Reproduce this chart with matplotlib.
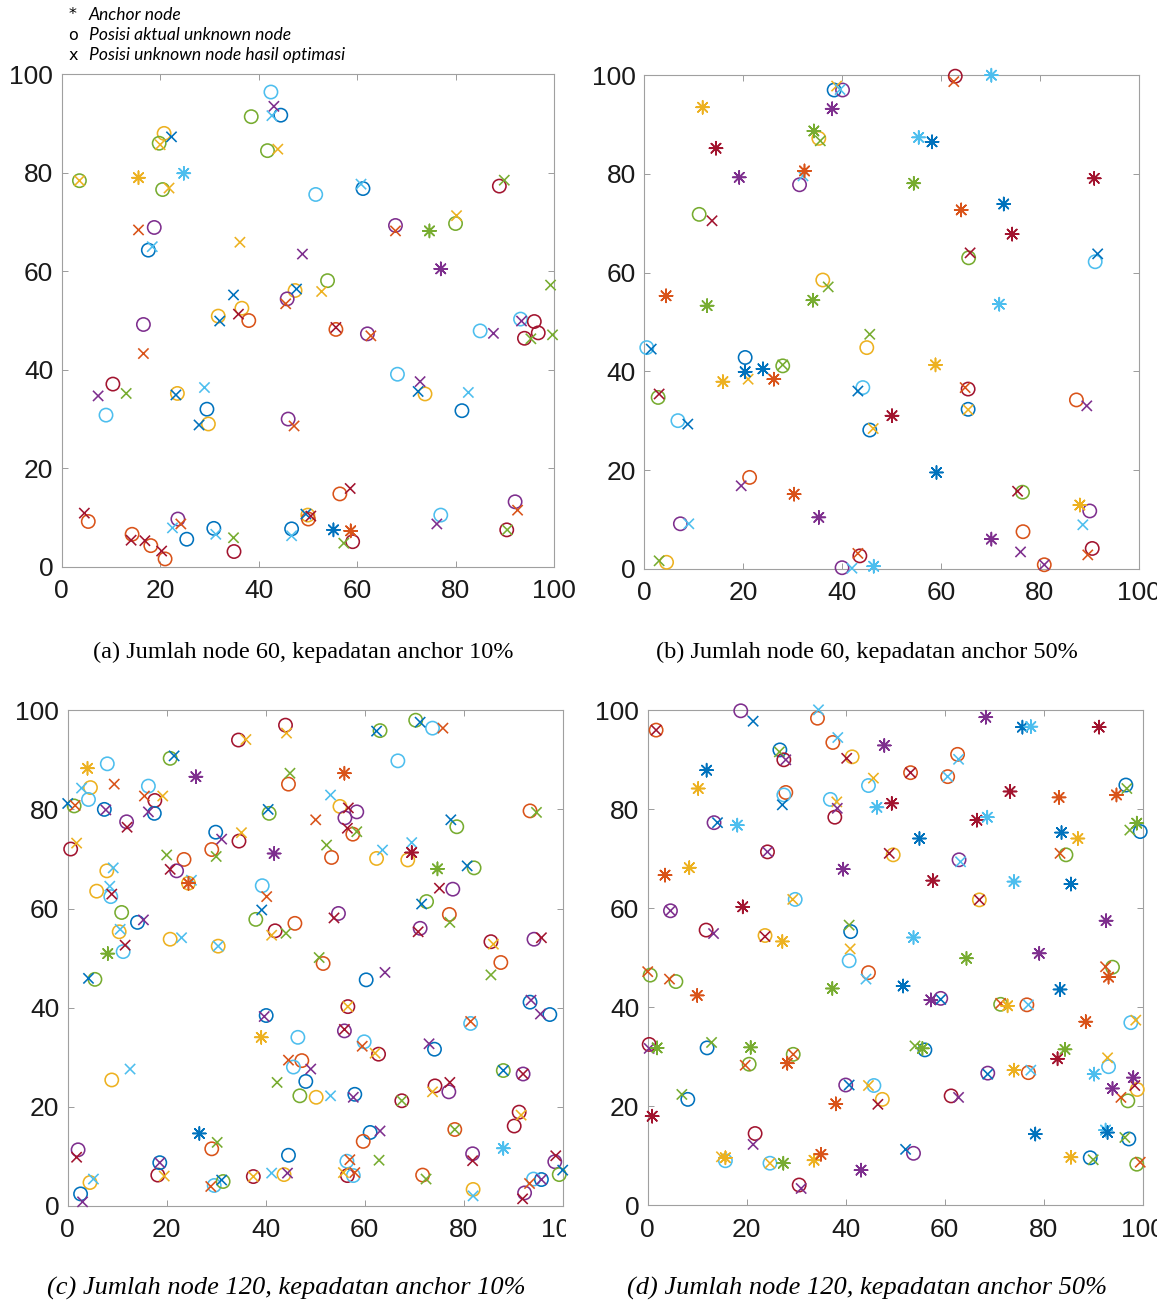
import matplotlib
matplotlib.use("Agg")
import matplotlib.pyplot as plt
from matplotlib.patches import Rectangle

# MATLAB default colour order
PAL = {"b": "#0072BD", "o": "#D95319", "y": "#EDB120", "p": "#7E2F8E",
       "g": "#77AC30", "c": "#4DBEEE", "r": "#A2142F"}

ticks = [0, 20, 40, 60, 80, 100]

captions = ["(a) Jumlah node 60, kepadatan anchor 10%",
            "(b) Jumlah node 60, kepadatan anchor 50%",
            "(c) Jumlah node 120, kepadatan anchor 10%",
            "(d) Jumlah node 120, kepadatan anchor 50%"]
legend_labels = ["Anchor node", "Posisi aktual unknown node",
                 "Posisi unknown node hasil optimasi"]

# ---------------- Panel (a) ----------------
a_anchor = [(15.6, 79.0, "y"), (24.8, 79.9, "c"), (74.7, 68.2, "g"), (77.0, 60.5, "p"),
            (55.2, 7.5, "b"), (58.7, 7.3, "o")]
a_actual = [(42.5, 96.4, "c"), (44.5, 91.7, "b"), (38.5, 91.4, "g"), (20.8, 88.0, "y"),
            (19.8, 86.0, "g"), (41.8, 84.5, "g"), (3.6, 78.4, "g"), (20.5, 76.6, "g"),
            (51.6, 75.6, "c"), (61.2, 76.8, "b"), (88.9, 77.3, "r"), (18.8, 68.9, "p"),
            (67.8, 69.3, "p"), (80.0, 69.7, "g"), (17.6, 64.3, "b"), (54.0, 58.1, "g"),
            (47.4, 56.1, "y"), (45.8, 54.4, "p"), (36.6, 52.5, "y"), (38.0, 50.0, "o"),
            (31.8, 50.9, "y"), (16.6, 49.2, "p"), (55.7, 48.2, "o"), (62.1, 47.3, "p"),
            (85.0, 47.9, "c"), (93.2, 50.3, "c"), (96.0, 49.8, "r"), (96.8, 47.5, "r"),
            (94.0, 46.4, "r"), (10.4, 37.1, "r"), (23.5, 35.2, "y"), (68.2, 39.1, "c"),
            (73.8, 35.1, "y"), (9.0, 30.8, "c"), (29.5, 32.0, "b"), (29.8, 29.0, "y"),
            (46.0, 30.0, "p"), (81.3, 31.7, "b"), (5.4, 9.2, "o"), (14.3, 6.6, "o"),
            (18.1, 4.3, "o"), (21.0, 1.6, "o"), (23.6, 9.7, "p"), (25.4, 5.6, "b"),
            (30.9, 7.8, "b"), (35.0, 3.1, "r"), (46.7, 7.7, "b"), (50.0, 10.5, "y"),
            (50.1, 9.7, "o"), (59.1, 5.1, "r"), (56.5, 14.8, "o"), (77.0, 10.5, "c"),
            (92.1, 13.2, "p"), (90.4, 7.5, "r")]
a_est = [(43.1, 93.5, "p"), (42.7, 91.6, "c"), (22.3, 87.3, "b"), (20.0, 85.7, "y"),
         (43.9, 84.8, "y"), (3.6, 78.4, "y"), (21.8, 76.9, "y"), (60.8, 77.7, "c"),
         (89.9, 78.5, "g"), (15.6, 68.4, "o"), (36.2, 65.9, "y"), (67.8, 68.2, "o"),
         (80.2, 71.3, "y"), (18.4, 65.0, "c"), (48.9, 63.5, "p"), (99.3, 57.2, "g"),
         (52.8, 55.9, "y"), (47.7, 56.4, "b"), (45.5, 53.4, "o"), (34.9, 55.2, "b"),
         (35.9, 51.3, "r"), (32.1, 49.9, "b"), (16.6, 43.3, "o"), (55.7, 48.6, "r"),
         (62.8, 46.9, "o"), (87.7, 47.4, "p"), (93.4, 49.9, "p"), (95.3, 46.3, "g"),
         (99.7, 47.1, "g"), (7.4, 34.7, "p"), (13.1, 35.2, "g"), (23.2, 34.9, "b"),
         (29.0, 36.4, "c"), (72.8, 37.6, "p"), (72.4, 35.6, "b"), (82.6, 35.4, "c"),
         (27.9, 28.8, "b"), (47.2, 28.6, "o"), (4.6, 10.9, "r"), (14.1, 5.4, "r"),
         (16.9, 5.3, "r"), (20.3, 3.2, "r"), (24.2, 8.7, "o"), (22.5, 7.9, "c"),
         (31.3, 6.6, "c"), (34.9, 5.9, "g"), (46.7, 6.3, "c"), (49.6, 10.7, "b"),
         (50.6, 10.3, "r"), (57.3, 4.8, "g"), (58.6, 15.9, "r"), (76.2, 8.7, "p"),
         (92.6, 11.5, "o"), (90.5, 7.5, "g")]

# ---------------- Panel (b) ----------------
b_anchor = [(70.2, 100.0, "c"), (11.8, 93.5, "y"), (38.0, 93.2, "p"), (34.3, 88.7, "g"),
            (14.5, 85.2, "r"), (55.5, 87.4, "c"), (58.2, 86.5, "b"), (19.2, 79.3, "p"),
            (32.4, 80.6, "o"), (54.5, 78.1, "g"), (91.0, 79.1, "r"), (72.7, 73.9, "b"),
            (64.1, 72.7, "o"), (74.4, 67.8, "r"), (4.4, 55.3, "o"), (12.7, 53.3, "g"),
            (34.1, 54.4, "g"), (71.8, 53.6, "c"), (20.4, 39.9, "b"), (24.0, 40.5, "b"),
            (15.9, 37.9, "y"), (26.2, 38.4, "o"), (58.9, 41.3, "y"), (50.1, 31.0, "r"),
            (59.1, 19.5, "b"), (30.3, 15.1, "o"), (35.3, 10.4, "p"), (88.1, 12.9, "y"),
            (70.2, 6.0, "p"), (46.4, 0.5, "c")]
b_actual = [(38.4, 97.0, "b"), (40.1, 97.0, "p"), (62.9, 99.8, "r"), (35.3, 87.2, "y"),
            (31.4, 77.8, "p"), (11.1, 71.8, "g"), (65.6, 63.0, "g"), (91.2, 62.2, "c"),
            (36.1, 58.5, "y"), (45.0, 44.8, "y"), (0.5, 44.8, "c"), (20.4, 42.8, "b"),
            (28.0, 41.1, "g"), (44.2, 36.7, "c"), (65.5, 36.4, "r"), (65.5, 32.3, "b"),
            (87.4, 34.2, "o"), (2.8, 34.7, "g"), (6.8, 30.0, "c"), (45.6, 28.1, "b"),
            (21.3, 18.5, "o"), (76.5, 15.5, "g"), (90.1, 11.7, "p"), (7.3, 9.1, "p"),
            (76.6, 7.5, "o"), (90.6, 4.1, "r"), (80.9, 0.8, "o"), (4.5, 1.3, "y"),
            (43.6, 2.6, "r"), (40.0, 0.2, "p")]
b_est = [(38.9, 97.8, "y"), (39.6, 97.1, "c"), (62.6, 98.7, "o"), (35.6, 86.7, "g"),
         (32.1, 79.6, "c"), (13.7, 70.5, "r"), (65.9, 64.0, "r"), (91.7, 63.8, "b"),
         (37.2, 57.1, "g"), (45.6, 47.5, "g"), (1.4, 44.5, "b"), (21.0, 38.4, "y"),
         (28.0, 41.3, "g"), (43.2, 36.0, "b"), (64.9, 36.7, "o"), (65.5, 32.2, "y"),
         (89.5, 33.0, "p"), (3.0, 35.4, "r"), (8.8, 29.3, "b"), (46.3, 28.4, "y"),
         (19.6, 16.8, "p"), (75.5, 15.7, "r"), (88.7, 8.9, "c"), (9.0, 9.1, "c"),
         (76.1, 3.4, "p"), (89.7, 2.8, "o"), (80.9, 0.8, "p"), (3.0, 1.6, "g"),
         (43.2, 3.1, "o"), (42.0, 0.1, "c")]

# ---------------- Panel (c) ----------------
c_anchor = [(4.0, 88.3, "y"), (25.9, 86.6, "p"), (55.9, 87.3, "o"), (41.7, 71.1, "p"),
            (69.5, 71.3, "r"), (74.7, 68.0, "g"), (24.4, 65.1, "o"), (8.1, 50.9, "g"),
            (39.1, 34.0, "y"), (26.6, 14.6, "b"), (88.0, 11.6, "c")]
c_actual = [(44.0, 97.0, "r"), (34.5, 94.0, "r"), (63.1, 95.9, "g"), (70.3, 98.0, "g"),
            (73.7, 96.4, "c"), (20.7, 90.3, "g"), (8.0, 89.2, "c"), (66.7, 89.8, "c"),
            (44.6, 85.1, "o"), (16.3, 84.7, "c"), (4.6, 84.4, "y"), (4.2, 82.0, "c"),
            (17.6, 81.8, "r"), (1.3, 80.7, "g"), (7.4, 80.0, "b"), (17.5, 79.2, "b"),
            (11.9, 77.5, "p"), (40.7, 79.2, "g"), (55.0, 80.6, "y"), (58.4, 79.5, "p"),
            (56.0, 78.3, "p"), (57.6, 75.0, "o"), (78.6, 76.5, "g"), (93.4, 79.7, "o"),
            (0.6, 72.0, "r"), (29.9, 75.4, "b"), (34.6, 73.6, "r"), (29.1, 71.9, "o"),
            (23.5, 69.9, "o"), (53.3, 70.3, "o"), (62.4, 70.1, "y"), (68.7, 69.8, "y"),
            (82.1, 68.2, "g"), (7.9, 67.6, "y"), (22.0, 67.6, "p"), (24.4, 65.1, "y"),
            (5.85, 63.5, "y"), (8.7, 62.4, "c"), (39.3, 64.6, "c"), (77.8, 63.9, "p"),
            (72.5, 61.4, "g"), (10.9, 59.2, "g"), (14.1, 57.2, "b"), (10.4, 55.3, "y"),
            (11.2, 51.3, "c"), (20.7, 53.8, "y"), (30.4, 52.4, "y"), (38.0, 57.8, "g"),
            (41.9, 55.5, "r"), (45.9, 57.0, "o"), (54.7, 59.0, "p"), (71.2, 56.0, "p"),
            (77.1, 58.8, "o"), (85.5, 53.3, "r"), (94.2, 53.8, "p"), (87.5, 49.1, "o"),
            (51.6, 48.9, "o"), (60.3, 45.6, "b"), (5.5, 45.7, "g"), (56.6, 40.2, "r"),
            (40.1, 38.4, "b"), (81.4, 36.8, "c"), (93.4, 41.1, "b"), (97.4, 38.6, "b"),
            (46.5, 34.0, "c"), (55.9, 35.3, "p"), (59.9, 33.1, "c"), (62.8, 30.6, "r"),
            (74.1, 31.6, "b"), (47.3, 29.3, "o"), (45.6, 28.0, "c"), (48.1, 25.1, "b"),
            (46.9, 22.2, "g"), (50.2, 21.9, "y"), (58.0, 22.5, "b"), (8.9, 25.4, "y"),
            (67.5, 21.2, "r"), (74.2, 24.2, "r"), (77.0, 23.0, "p"), (88.0, 27.3, "g"),
            (92.0, 26.6, "p"), (91.2, 18.9, "r"), (90.2, 16.1, "r"), (78.2, 15.4, "o"),
            (61.1, 14.8, "b"), (59.7, 13.0, "o"), (81.8, 10.5, "p"), (98.4, 8.9, "p"),
            (99.3, 6.3, "g"), (95.7, 5.3, "b"), (94.1, 5.4, "c"), (92.3, 2.6, "p"),
            (81.9, 3.3, "y"), (71.7, 6.2, "o"), (56.4, 9.0, "c"), (56.5, 6.1, "r"),
            (57.7, 6.1, "c"), (43.7, 6.3, "y"), (37.5, 5.9, "r"), (44.6, 10.2, "b"),
            (29.1, 11.5, "o"), (29.6, 4.1, "c"), (31.4, 4.9, "g"), (18.2, 6.2, "r"),
            (18.6, 8.7, "b"), (2.1, 11.3, "p"), (4.5, 4.7, "y"), (2.6, 2.4, "b")]
c_est = [(44.2, 95.4, "y"), (36.0, 94.1, "y"), (62.4, 95.8, "b"), (71.2, 97.6, "b"),
         (75.8, 96.4, "o"), (21.5, 90.8, "b"), (44.9, 87.3, "g"), (9.4, 85.1, "o"),
         (2.8, 84.3, "c"), (15.5, 82.7, "o"), (19.2, 82.7, "y"), (0.0, 81.2, "b"),
         (1.5, 80.8, "o"), (7.7, 79.9, "p"), (16.3, 79.5, "p"), (12.0, 76.4, "r"),
         (40.5, 80.0, "b"), (53.1, 82.9, "c"), (56.7, 80.3, "r"), (50.1, 77.9, "o"),
         (56.5, 76.2, "r"), (58.4, 75.5, "g"), (77.4, 77.9, "b"), (94.7, 79.4, "g"),
         (1.8, 73.2, "y"), (31.1, 74.0, "p"), (35.1, 75.3, "y"), (30.0, 70.5, "g"),
         (20.0, 70.8, "g"), (52.3, 72.8, "g"), (63.6, 71.8, "c"), (69.5, 73.3, "c"),
         (80.7, 68.6, "b"), (9.2, 68.2, "c"), (20.7, 67.9, "r"), (25.0, 65.7, "c"),
         (8.5, 64.5, "c"), (8.9, 62.9, "r"), (40.2, 62.4, "o"), (75.1, 64.1, "r"),
         (71.5, 60.9, "b"), (15.3, 57.7, "p"), (10.6, 55.8, "c"), (11.6, 52.6, "r"),
         (23.0, 54.1, "c"), (30.4, 52.4, "c"), (39.2, 59.7, "b"), (41.2, 54.6, "y"),
         (44.1, 55.0, "g"), (53.8, 58.1, "r"), (70.8, 55.3, "r"), (77.2, 57.2, "g"),
         (86.0, 52.8, "y"), (95.7, 54.1, "r"), (85.5, 46.6, "g"), (50.8, 50.1, "g"),
         (64.1, 47.1, "p"), (4.2, 45.9, "b"), (56.6, 40.2, "y"), (39.7, 38.2, "p"),
         (81.4, 37.2, "o"), (93.6, 41.5, "p"), (95.5, 38.7, "p"), (55.9, 35.6, "r"),
         (59.5, 32.2, "o"), (62.1, 30.8, "y"), (73.0, 32.7, "p"), (44.6, 29.4, "o"),
         (49.1, 27.6, "p"), (42.3, 24.9, "g"), (53.1, 22.2, "c"), (57.7, 21.9, "p"),
         (12.6, 27.6, "c"), (67.5, 21.2, "g"), (73.7, 23.0, "y"), (77.2, 24.9, "r"),
         (88.0, 27.3, "b"), (92.0, 26.6, "r"), (91.6, 18.3, "y"), (78.2, 15.4, "g"),
         (63.1, 15.1, "p"), (62.9, 9.2, "g"), (81.8, 9.1, "r"), (98.6, 10.1, "r"),
         (100.0, 7.2, "b"), (95.7, 5.3, "p"), (93.3, 4.5, "o"), (91.9, 1.4, "r"),
         (81.9, 2.0, "c"), (72.4, 5.4, "g"), (57.0, 9.3, "o"), (55.7, 6.7, "y"),
         (58.0, 6.7, "o"), (44.4, 6.6, "p"), (41.2, 6.6, "c"), (37.5, 5.9, "y"),
         (30.2, 12.8, "g"), (31.1, 5.2, "b"), (28.9, 3.9, "o"), (19.5, 6.0, "y"),
         (18.6, 8.7, "p"), (1.8, 9.8, "r"), (5.2, 5.4, "c"), (3.0, 0.8, "p")]

# ---------------- Panel (d) ----------------
d_anchor = [(68.3, 98.6, "p"), (75.7, 96.6, "b"), (77.4, 96.7, "c"), (91.2, 96.6, "r"),
            (47.8, 92.9, "p"), (11.9, 87.9, "b"), (10.2, 84.2, "y"), (73.2, 83.6, "r"),
            (83.1, 82.4, "o"), (94.7, 82.9, "o"), (46.3, 80.4, "c"), (49.3, 81.2, "r"),
            (66.5, 77.8, "r"), (68.6, 78.4, "c"), (18.1, 76.8, "c"), (54.9, 74.1, "b"),
            (83.6, 75.3, "b"), (86.9, 74.1, "y"), (98.8, 77.2, "g"), (3.5, 66.7, "o"),
            (8.4, 68.2, "y"), (39.5, 67.9, "p"), (57.6, 65.6, "r"), (74.0, 65.4, "c"),
            (85.5, 64.9, "b"), (19.2, 60.3, "r"), (92.6, 57.5, "p"), (27.2, 53.3, "y"),
            (53.7, 54.1, "c"), (64.4, 49.9, "g"), (79.1, 50.9, "p"), (10.0, 42.4, "o"),
            (37.3, 43.8, "g"), (51.6, 44.3, "b"), (57.2, 41.5, "p"), (72.7, 40.3, "y"),
            (83.3, 43.6, "b"), (93.1, 46.1, "o"), (88.5, 37.1, "o"), (1.9, 31.8, "g"),
            (20.8, 31.9, "g"), (28.2, 28.7, "o"), (15.7, 9.6, "y"), (27.4, 8.5, "g"),
            (33.6, 9.1, "y"), (35.0, 10.3, "o"), (43.1, 7.1, "p"), (38.0, 20.5, "o"),
            (55.5, 31.7, "g"), (74.0, 27.3, "y"), (82.8, 29.6, "r"), (84.3, 31.5, "g"),
            (90.2, 26.5, "c"), (98.1, 25.8, "p"), (93.9, 23.6, "p"), (78.3, 14.4, "b"),
            (92.5, 15.2, "c"), (92.9, 14.7, "b"), (85.5, 9.7, "y"), (0.9, 18.0, "r")]
d_actual = [(18.8, 99.9, "p"), (34.3, 98.4, "o"), (1.7, 96.0, "o"), (37.4, 93.5, "o"),
            (26.7, 92.0, "b"), (27.5, 90.0, "r"), (41.3, 90.6, "y"), (62.6, 91.1, "o"),
            (53.1, 87.4, "o"), (60.6, 86.6, "o"), (44.6, 84.8, "c"), (96.6, 84.9, "b"),
            (27.9, 83.4, "o"), (27.5, 82.9, "c"), (36.9, 82.0, "c"), (37.8, 78.4, "r"),
            (13.4, 77.3, "p"), (99.5, 75.5, "b"), (24.2, 71.4, "r"), (49.6, 70.8, "y"),
            (62.9, 69.8, "p"), (84.5, 70.8, "g"), (67.0, 61.7, "y"), (4.6, 59.5, "p"),
            (29.8, 61.8, "c"), (11.8, 55.6, "r"), (23.7, 54.5, "y"), (41.0, 55.3, "b"),
            (40.7, 49.4, "c"), (0.5, 46.5, "g"), (5.7, 45.2, "g"), (44.6, 47.0, "o"),
            (59.2, 41.8, "p"), (71.3, 40.6, "g"), (76.6, 40.5, "o"), (93.9, 48.1, "g"),
            (97.6, 36.9, "c"), (0.3, 32.5, "r"), (12.0, 31.8, "b"), (20.5, 28.5, "g"),
            (29.4, 30.5, "g"), (21.7, 14.5, "r"), (15.7, 9.0, "c"), (24.7, 8.5, "c"),
            (30.6, 4.1, "r"), (40.0, 24.3, "p"), (45.7, 24.2, "c"), (47.4, 21.4, "y"),
            (56.0, 31.4, "b"), (53.7, 10.5, "p"), (61.3, 22.1, "r"), (68.7, 26.7, "p"),
            (76.9, 26.8, "o"), (93.1, 28.0, "c"), (98.9, 23.4, "y"), (97.0, 21.1, "g"),
            (97.2, 13.4, "b"), (89.4, 9.6, "b"), (98.8, 8.3, "g"), (8.1, 21.4, "b")]
d_est = [(21.3, 97.8, "b"), (34.5, 100.1, "c"), (1.7, 96.0, "r"), (38.4, 94.5, "c"),
         (26.6, 91.6, "g"), (27.9, 90.0, "p"), (40.2, 90.3, "r"), (62.8, 90.1, "c"),
         (53.1, 87.4, "r"), (60.6, 86.6, "c"), (45.6, 86.3, "y"), (96.8, 84.2, "g"),
         (27.2, 80.9, "b"), (38.2, 81.5, "y"), (38.3, 80.2, "p"), (14.1, 77.3, "b"),
         (97.4, 75.8, "g"), (24.2, 71.4, "p"), (48.8, 71.1, "r"), (63.2, 69.4, "c"),
         (83.3, 71.1, "o"), (67.0, 61.7, "r"), (4.6, 59.5, "p"), (29.3, 61.8, "y"),
         (13.3, 54.9, "p"), (23.7, 54.3, "r"), (40.7, 56.6, "g"), (40.9, 51.8, "y"),
         (0.0, 47.2, "o"), (4.4, 45.7, "o"), (44.1, 45.7, "c"), (59.2, 41.6, "b"),
         (71.3, 40.8, "o"), (76.9, 40.5, "c"), (92.5, 48.2, "o"), (98.6, 37.4, "y"),
         (0.3, 31.7, "p"), (12.9, 32.9, "g"), (19.7, 28.3, "o"), (29.4, 30.5, "o"),
         (21.3, 12.3, "p"), (14.9, 9.8, "y"), (24.7, 8.5, "y"), (31.0, 3.4, "p"),
         (40.7, 24.3, "b"), (44.6, 24.2, "y"), (46.5, 20.4, "r"), (54.0, 32.2, "g"),
         (52.1, 11.3, "b"), (62.8, 21.8, "p"), (68.7, 26.5, "b"), (77.4, 27.3, "c"),
         (92.9, 29.8, "y"), (98.4, 24.2, "r"), (95.6, 21.8, "o"), (96.4, 13.7, "g"),
         (90.0, 9.2, "g"), (99.5, 8.7, "o"), (6.9, 22.4, "g")]

panels = [(a_anchor, a_actual, a_est), (b_anchor, b_actual, b_est),
          (c_anchor, c_actual, c_est), (d_anchor, d_actual, d_est)]

W, H = 1169, 1303
fig = plt.figure(figsize=(W / 100, H / 100), dpi=100)


def fx(px):
    return px / W


def fy(py):
    return 1 - py / H


# axes boxes in pixel coordinates (left, top, right, bottom)
boxes = [(61.7, 74.3, 554.0, 566.8), (644.3, 75.2, 1138.7, 568.7),
         (67.7, 710.3, 562.7, 1205.8), (647.7, 710.3, 1142.7, 1205.3)]

STAR = (8, 2, 0)
LW = 1.15
for (l, t, r, b), (anc, act, est) in zip(boxes, panels):
    ax = fig.add_axes([fx(l), fy(b), fx(r - l), (b - t) / H])
    ax.set_xlim(0, 100)
    ax.set_ylim(0, 100)
    ax.set_xticks(ticks)
    ax.set_yticks(ticks)
    ax.tick_params(direction="in", length=4.5, width=0.6, color="#8c8c8c",
                   top=True, right=True, labelsize=19, labelcolor="#1a1a1a")
    ax.tick_params(axis="x", pad=9)
    ax.tick_params(axis="y", pad=6)
    for lab in ax.get_xticklabels() + ax.get_yticklabels():
        lab.set_fontfamily("Liberation Sans")
    for s in ax.spines.values():
        s.set_color("#a0a0a0")
        s.set_linewidth(0.8)
    ax.scatter([p[0] for p in act], [p[1] for p in act], s=92, marker="o",
               facecolors="none", edgecolors=[PAL[p[2]] for p in act],
               linewidths=LW, clip_on=False, zorder=3)
    ax.scatter([p[0] for p in est], [p[1] for p in est], s=55, marker="x",
               c=[PAL[p[2]] for p in est], linewidths=LW, clip_on=False, zorder=4)
    ax.scatter([p[0] for p in anc], [p[1] for p in anc], s=90, marker=STAR,
               c=[PAL[p[2]] for p in anc], linewidths=LW, clip_on=False, zorder=5)

# the source figure crops the right-most "100" tick labels
for (x0, y0, x1, y1) in [(566, 1212, 600, 1250), (1157, 575, 1169, 615),
                         (1157, 1212, 1169, 1250)]:
    fig.add_artist(Rectangle((fx(x0), fy(y1)), fx(x1 - x0), (y1 - y0) / H,
                             transform=fig.transFigure, facecolor="white",
                             edgecolor="none", zorder=10))

# legend (top-left, as text)
leg_marks = ["*", "o", "x"]
for i, (m, lab) in enumerate(zip(leg_marks, legend_labels)):
    y = 15 + 20 * i
    fig.text(fx(73), fy(y), m, ha="center", va="center", fontsize=11.5,
             family="DejaVu Sans", color="black")
    fig.text(fx(89), fy(y), lab, ha="left", va="center", fontsize=12.6,
             family="Lato", style="italic", color="black")

# captions
cap_pos = [(303, 652, "normal", 17.5), (867, 652, "normal", 17.5),
           (286, 1288, "italic", 19), (867, 1288, "italic", 19)]
for (cx, cy, st, fs), txt in zip(cap_pos, captions):
    fig.text(fx(cx), fy(cy), txt, ha="center", va="center", fontsize=fs,
             family="Liberation Serif", style=st, color="black")

fig.savefig("out.png", dpi=100)
